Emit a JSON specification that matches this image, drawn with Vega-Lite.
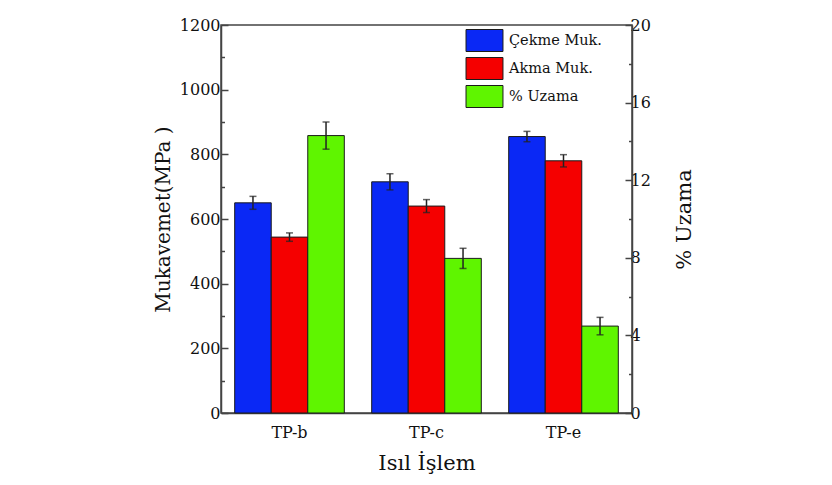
{
  "$schema": "https://vega.github.io/schema/vega-lite/v6.json",
  "autosize": "none",
  "padding": {"left": 221, "top": 25, "right": 200, "bottom": 72},
  "width": 411,
  "height": 388,
  "background": "white",
  "config": {
    "font": "DejaVu Serif",
    "view": {"stroke": "#444444", "strokeWidth": 1.5},
    "axis": {
      "grid": false,
      "domainColor": "#444444",
      "domainWidth": 1.5,
      "tickColor": "#444444",
      "tickWidth": 1.5,
      "labelFont": "DejaVu Serif",
      "titleFont": "DejaVu Serif",
      "labelColor": "#111111",
      "titleColor": "#111111",
      "titleFontWeight": "normal"
    },
    "legend": {"labelFont": "DejaVu Serif"}
  },
  "datasets": {
    "olcum": [
      {"grup": "TP-b", "seri": "Çekme Muk.", "deger": 650, "alt": 630, "ust": 670},
      {"grup": "TP-b", "seri": "Akma Muk.", "deger": 544, "alt": 531, "ust": 557},
      {"grup": "TP-b", "seri": "% Uzama", "deger": 14.3, "alt": 13.6, "ust": 15.0},
      {"grup": "TP-c", "seri": "Çekme Muk.", "deger": 715, "alt": 690, "ust": 740},
      {"grup": "TP-c", "seri": "Akma Muk.", "deger": 640, "alt": 620, "ust": 660},
      {"grup": "TP-c", "seri": "% Uzama", "deger": 7.97, "alt": 7.45, "ust": 8.49},
      {"grup": "TP-e", "seri": "Çekme Muk.", "deger": 855, "alt": 839, "ust": 871},
      {"grup": "TP-e", "seri": "Akma Muk.", "deger": 780, "alt": 761, "ust": 799},
      {"grup": "TP-e", "seri": "% Uzama", "deger": 4.48, "alt": 4.03, "ust": 4.93}
    ]
  },
  "layer": [
    {
      "data": {"name": "olcum"},
      "encoding": {
        "x": {
          "field": "grup",
          "type": "nominal",
          "title": "Isıl İşlem",
          "scale": {"paddingInner": 0.2, "paddingOuter": 0.1},
          "axis": {
            "labelAngle": 0,
            "ticks": false,
            "labelFontSize": 16,
            "labelPadding": 11,
            "titleFontSize": 21,
            "titlePadding": 12
          }
        },
        "xOffset": {
          "field": "seri",
          "type": "nominal",
          "scale": {"domain": ["Çekme Muk.", "Akma Muk.", "% Uzama"], "paddingInner": 0, "paddingOuter": 0}
        }
      },
      "layer": [
        {
          "transform": [{"filter": "datum.seri !== '% Uzama'"}],
          "encoding": {
            "y": {
              "field": "deger",
              "type": "quantitative",
              "title": "Mukavemet(MPa )",
              "scale": {"domain": [0, 1200], "nice": false},
              "axis": {
                "orient": "left",
                "format": "d",
                "values": [0, 100, 200, 300, 400, 500, 600, 700, 800, 900, 1000, 1100, 1200],
                "labelExpr": "datum.value % 200 === 0 ? datum.label : ''",
                "tickSize": {"condition": {"test": "datum.value % 200 === 0", "value": -7}, "value": -3.5},
                "labelPadding": 8,
                "labelFontSize": 16,
                "titleFontSize": 20,
                "titlePadding": 6
              }
            }
          },
          "layer": [
            {
              "mark": {"type": "bar", "stroke": "#1a1a1a", "strokeWidth": 1},
              "encoding": {
                "color": {
                  "field": "seri",
                  "type": "nominal",
                  "title": null,
                  "scale": {"domain": ["Çekme Muk.", "Akma Muk.", "% Uzama"], "range": ["#0a28f5", "#f50000", "#5ff500"]},
                  "legend": {
                    "orient": "none",
                    "legendX": 252,
                    "legendY": 4,
                    "padding": 0,
                    "symbolType": "M-1.68,-1H1.68V1H-1.68Z",
                    "symbolSize": 484,
                    "symbolStrokeColor": "#1a1a1a",
                    "symbolStrokeWidth": 1,
                    "symbolOpacity": 1,
                    "labelFontSize": 14.5,
                    "labelColor": "#111111",
                    "labelOffset": 13,
                    "rowPadding": 1
                  }
                }
              }
            },
            {
              "mark": {"type": "rule", "color": "#222222", "strokeWidth": 1.5},
              "encoding": {"y": {"field": "alt", "type": "quantitative"}, "y2": {"field": "ust"}}
            },
            {
              "mark": {"type": "tick", "color": "#222222", "thickness": 1.5, "size": 7},
              "encoding": {"y": {"field": "alt", "type": "quantitative"}}
            },
            {
              "mark": {"type": "tick", "color": "#222222", "thickness": 1.5, "size": 7},
              "encoding": {"y": {"field": "ust", "type": "quantitative"}}
            }
          ]
        }
      ]
    },
    {
      "data": {"name": "olcum"},
      "encoding": {
        "x": {"field": "grup", "type": "nominal"},
        "xOffset": {"field": "seri", "type": "nominal"}
      },
      "layer": [
        {
          "transform": [{"filter": "datum.seri === '% Uzama'"}],
          "encoding": {
            "y": {
              "field": "deger",
              "type": "quantitative",
              "title": "% Uzama",
              "scale": {"domain": [0, 20], "nice": false},
              "axis": {
                "orient": "right",
                "values": [0, 2, 4, 6, 8, 10, 12, 14, 16, 18, 20],
                "labelExpr": "datum.value % 4 === 0 ? datum.label : ''",
                "tickSize": {"condition": {"test": "datum.value % 4 === 0", "value": -7}, "value": -3.5},
                "labelPadding": 5,
                "labelFontSize": 16,
                "titleFontSize": 21,
                "titleAngle": 270,
                "titlePadding": 44
              }
            }
          },
          "layer": [
            {
              "mark": {"type": "bar", "stroke": "#1a1a1a", "strokeWidth": 1},
              "encoding": {"color": {"field": "seri", "type": "nominal"}}
            },
            {
              "mark": {"type": "rule", "color": "#222222", "strokeWidth": 1.5},
              "encoding": {"y": {"field": "alt", "type": "quantitative"}, "y2": {"field": "ust"}}
            },
            {
              "mark": {"type": "tick", "color": "#222222", "thickness": 1.5, "size": 7},
              "encoding": {"y": {"field": "alt", "type": "quantitative"}}
            },
            {
              "mark": {"type": "tick", "color": "#222222", "thickness": 1.5, "size": 7},
              "encoding": {"y": {"field": "ust", "type": "quantitative"}}
            }
          ]
        }
      ]
    }
  ],
  "resolve": {"scale": {"y": "independent"}}
}
